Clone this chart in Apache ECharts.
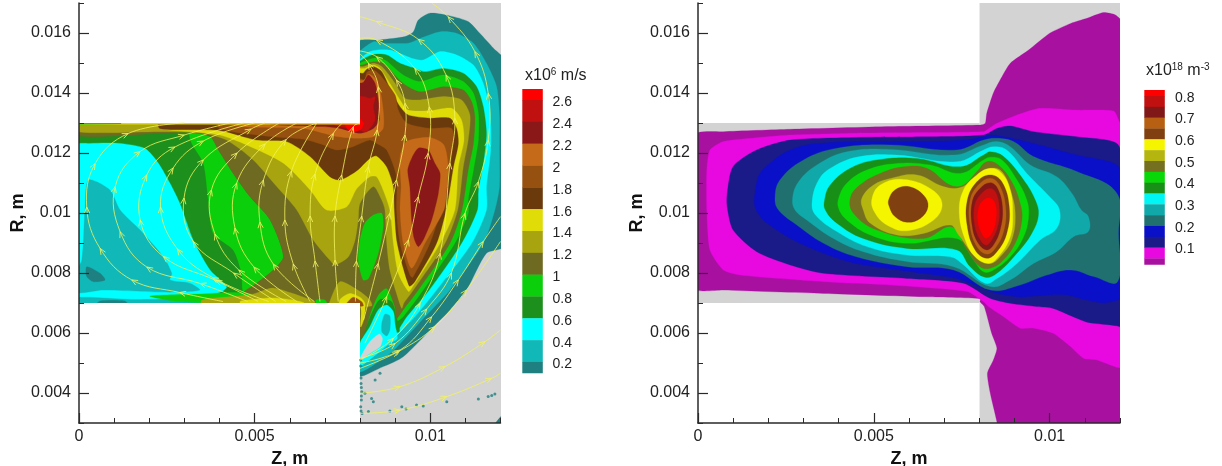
<!DOCTYPE html>
<html><head><meta charset="utf-8">
<style>html,body{margin:0;padding:0;background:#fff}#c{width:1222px;height:466px}</style>
<script src="https://cdn.jsdelivr.net/npm/echarts@6/dist/echarts.min.js"></script>
</head><body><div id="c"></div>
<script>
// All contour outlines are [Z, R] in millimetres.
const zTicks=[0,0.005,0.01];
const rTicks=[0.004,0.006,0.008,0.01,0.012,0.014,0.016];
const speedLabels=['2.6','2.4','2.2','2','1.8','1.6','1.4','1.2','1','0.8','0.6','0.4','0.2'];
const densLabels=['0.8','0.7','0.6','0.5','0.4','0.3','0.2','0.1'];
const speedColors=['#ff0000','#c01010','#8a1818','#c46a18','#96500f','#6a3a0c','#e0dc08','#a8a410','#6e6a22','#0ccf0c','#1c8f1c','#00ffff','#10b8b8','#1e8080'];
const densColors=['#ff0000','#c01010','#801818','#b86012','#80400f','#f5f500','#b5b510','#757020','#08d808','#189018','#00f5f5','#10a8a8','#207070','#0a10c8','#1a1a88','#e808e0','#a810a0'];
const GREY='#d3d3d3';
const domainA=[[8,3],[12.1,3],[12.1,17.1],[8,17.1]];
const domainB=[[-.1,7],[8,7],[8,13],[-.1,13]];
const maskTop=[[-1,13],[8,13],[8,18],[-1,18]];
const maskBot=[[-1,7],[8,7],[8,2],[-1,2]];

// left panel: speed
const plumeDarkTeal=[[7.9,15.66],[8.57,15.77],[9.28,15.88],[9.52,16.04],[9.66,16.43],[9.99,16.66],[10.56,16.57],[11.08,16.38],[11.41,15.99],[11.8,15.49],[12.1,15.1],[12.1,8.9],[11.6,8.66],[11.03,7.43],[10.56,6.77],[10.09,6.21],[9.23,5.21],[8.66,4.88],[7.9,4.6]];
const plumeTeal=[[7.9,15.2],[8.38,15.71],[8.66,15.66],[9.37,15.66],[9.71,15.82],[10.28,16.04],[10.75,15.99],[11.23,15.66],[11.6,14.99],[11.89,14.21],[11.97,13.21],[11.97,12.1],[11.97,10.88],[11.84,10.1],[11.51,8.99],[10.56,7.43],[9.85,6.54],[9.33,5.88],[8.85,5.32],[7.9,4.75]];
const plumeCyan=[[7.9,14.9],[8.28,15.38],[8.85,15.43],[9.47,15.16],[9.8,15.1],[10.28,15.38],[10.75,15.27],[11.23,14.93],[11.51,14.32],[11.7,13.43],[11.72,12.1],[11.6,10.88],[11.6,10.1],[11.18,8.99],[10.18,7.43],[9.56,6.54],[9,5.88],[8.47,5.32],[7.9,4.9]];
const plumeDG=[[7.9,14.9],[8.33,15.27],[8.76,15.27],[9.14,14.99],[9.56,14.82],[9.85,14.71],[10.37,14.82],[10.94,14.66],[11.32,14.21],[11.51,13.54],[11.6,12.66],[11.51,11.66],[11.37,10.77],[11.34,10.1],[10.89,8.99],[9.97,7.43],[9.33,6.54],[9.0,6.0],[8.6,5.95],[7.9,5.7]];
const plumeGreen=[[7.9,14.85],[8.38,15.16],[8.71,15.1],[9.23,14.6],[9.71,14.38],[10.37,14.6],[10.94,14.38],[11.23,13.99],[11.37,13.32],[11.37,12.43],[11.23,11.43],[11.08,10.43],[11.08,9.99],[10.7,8.99],[9.8,7.43],[9.23,6.54],[9.04,6.38],[8.8,6.3],[8.4,6.3],[7.9,5.9]];
const wedgeDG=[[8.05,5.77],[8.38,6.77],[8.57,7.12],[8.9,7.04],[9.06,6.43],[9.12,6.04],[8.85,5.99],[8.3,5.6]];
const wedgeCyan=[[8,5.66],[8.28,6.21],[8.52,6.77],[8.76,6.93],[8.95,6.71],[9,6.27],[9.06,5.82],[8.85,5.66],[8.38,5.21],[8,4.93]];
const wedgeTeal=[[8.62,6.32],[8.71,6.63],[8.85,6.57],[8.85,6.1],[8.76,5.9],[8.62,6.04]];
const wedgeHole=[[8,5.16],[8.28,5.71],[8.55,5.97],[8.64,5.82],[8.57,5.54],[8.28,5.32],[8.02,5.1]];
const channelDG=[[-.1,6.9],[8,6.9],[8,13.1],[-.1,13.1]];
const channelCyan=[[-.1,12.25],[.31,12.32],[1.17,12.32],[1.88,12.15],[2.26,11.66],[2.59,10.99],[2.87,10.32],[3.25,9.1],[3.73,8.1],[4.2,7.54],[4.0,7.35],[3.0,7.15],[-.1,7.1]];
const channelTeal=[[.08,8.43],[.17,10.1],[.27,11.1],[.88,10.77],[1.17,10.1],[1.74,9.43],[2.4,8.54],[2.64,7.99],[2.59,7.77],[3.16,7.66],[3.44,7.43],[2.59,7.36],[.69,7.43],[-.1,7.36],[-.1,8]];
const channelPatch=[[.22,8.21],[.6,7.99],[.74,7.77],[.41,7.71],[.22,7.88]];
const channelBotTeal=[[-.1,7.18],[1.5,7.12],[3.8,7.12],[4.2,7.0],[4.2,6.9],[-.1,6.9]];
const channelBotDark=[[.6,7.07],[1.3,7.07],[1.4,6.95],[.5,6.95]];
const channelGreen=[[3.16,12.66],[3.73,12.55],[3.97,12.1],[4.39,11.32],[4.87,10.54],[5.44,9.77],[5.82,8.55],[5.53,8.1],[5.06,7.66],[4.68,7.38],[4.63,7.99],[4.39,8.77],[3.82,9.32],[3.68,10.43],[3.54,11.66],[3.21,12.32]];
const coreOlive=[[-.1,13.2],[7.9,13.2],[7.9,14.85],[8.11,14.95],[8.38,15.04],[8.66,14.99],[9.23,14.32],[9.71,14.04],[10.37,14.21],[10.94,14.1],[11.18,13.71],[11.27,13.21],[11.23,12.32],[11.08,11.43],[10.9,10.1],[10.56,8.99],[9.66,7.43],[9.23,6.77],[9.04,6.49],[8.99,6.88],[8.76,7.49],[8.52,7.27],[8.33,6.77],[8.05,5.82],[7.9,6],[7.9,6.9],[4.6,6.9],[4.68,7.35],[5.06,7.66],[5.53,8.1],[5.82,8.55],[5.44,9.77],[4.87,10.54],[4.39,11.32],[3.97,12.1],[3.73,12.55],[3.06,12.69],[-.1,12.57]];
const coreOb=[[-.1,13.2],[7.9,13.2],[7.9,14.85],[8.11,14.88],[8.38,14.99],[8.62,14.88],[9.0,14.32],[9.28,13.82],[9.71,13.77],[10.37,13.88],[10.89,13.77],[11.13,13.27],[11.08,12.43],[10.94,11.54],[10.78,10.1],[10.42,8.99],[9.52,7.43],[9.25,7.0],[9.19,6.82],[9.04,7.32],[8.85,8.1],[8.76,8.99],[8.71,10.1],[8.62,10.43],[8.38,10.88],[8.0,10.32],[7.95,9.77],[7.86,9.1],[7.67,8.54],[7.29,8.27],[7.14,8.43],[6.67,9.1],[6.2,10.1],[5.63,10.88],[4.96,11.77],[4.2,12.43],[3.54,12.66],[2.4,12.71],[-.1,12.72]];
const coreYellow=[[2.4,13.2],[7.9,13.2],[7.9,14.8],[8.14,14.82],[8.38,14.93],[8.57,14.82],[8.85,14.32],[9.14,13.77],[9.37,13.43],[9.99,13.41],[10.61,13.49],[10.89,13.1],[10.96,12.43],[10.8,11.54],[10.7,10.1],[10.28,8.99],[9.47,7.49],[9.38,7.38],[9.09,7.99],[8.95,8.99],[8.85,10.1],[8.62,10.88],[8.47,11.21],[8.28,11.21],[7.9,10.8],[7.62,10.21],[7.05,10.1],[6.58,10.77],[5.82,11.66],[4.77,12.27],[4.01,12.6],[3.25,12.71],[2.4,12.82]];
const coreDark=[[2.3,13.2],[7.9,13.2],[7.9,14.66],[8.09,14.66],[8.17,14.77],[8.38,14.88],[8.62,14.71],[8.85,14.16],[9.14,13.54],[9.37,13.27],[9.99,13.16],[10.56,13.16],[10.75,12.82],[10.8,12.32],[10.66,11.54],[10.47,10.21],[10.18,8.99],[9.56,7.71],[9.4,7.57],[9.06,8.99],[8.98,10.1],[8.95,10.88],[8.76,11.54],[8.47,11.9],[8.28,11.82],[7.9,11.4],[7.43,11.1],[7.14,11.21],[6.58,11.88],[5.91,12.38],[5.06,12.43],[4.0,12.75],[2.3,12.82]];
const coreBrown=[[4.0,13.2],[7.9,13.2],[7.9,14.5],[8.14,14.43],[8.19,14.68],[8.38,14.77],[8.57,14.6],[9.0,13.93],[9.09,13.43],[9.33,13.0],[9.99,12.82],[10.61,12.82],[10.65,12.3],[10.56,11.54],[10.33,10.21],[9.99,8.99],[9.5,7.85],[9.42,7.93],[9.14,8.99],[9.04,10.1],[9.04,11.21],[8.76,12.1],[8.47,12.32],[8.28,12.43],[7.8,12.21],[7.33,12.1],[6.96,12.27],[6.39,12.46],[5.44,12.55],[4.0,12.82]];
const leftOrange=[[4.49,13.2],[7.9,13.2],[7.9,14.4],[8.11,14.43],[8.24,14.63],[8.43,14.49],[8.57,14.1],[8.66,13.43],[8.66,12.82],[8.38,12.54],[7.9,12.49],[7.33,12.55],[6.96,12.66],[6.39,12.82],[4.49,12.9]];
const leftDarkRed=[[5.44,13.2],[7.9,13.2],[7.9,14.3],[8.09,14.35],[8.24,14.6],[8.43,14.32],[8.52,13.77],[8.55,13.1],[8.38,12.82],[8,12.66],[7.43,12.82],[6.96,12.88],[5.44,12.97]];
const leftCrimson=[[7.24,13.2],[7.9,13.2],[7.9,13.88],[8.11,13.88],[8.28,13.82],[8.43,13.88],[8.38,13.54],[8.43,13.1],[8.19,12.71],[8,12.75],[7.43,12.88],[7.24,12.97]];
const leftRed=[[7.57,13.2],[7.95,13.2],[8.08,13.05],[8.11,13.0],[8.05,12.82],[7.86,12.71],[7.67,12.77],[7.57,12.93]];
const lobeOrange=[[9.14,10.1],[9.17,10.88],[9.14,11.88],[9.33,12.38],[9.99,12.52],[10.39,12.27],[10.51,11.54],[10.47,10.77],[10.39,10.1],[9.85,8.99],[9.47,8.16],[9.23,8.99]];
const lobeDarkRed=[[9.66,12.16],[9.94,12.1],[10.13,11.66],[10.28,11.32],[10.23,10.66],[10.12,10.1],[10.02,9.7],[9.8,9.1],[9.66,8.88],[9.54,9.16],[9.47,9.77],[9.42,10.88],[9.36,11.43],[9.47,11.82]];
const blobGreen=[[8.38,9.93],[8.62,9.99],[8.66,9.54],[8.52,8.66],[8.24,7.82],[8.09,7.77],[7.95,8.43],[8.0,9.1],[8.14,9.66]];
const stripGreen=[[2.02,7.23],[3.4,7.3],[4.6,7.35],[5.2,7.2],[5.0,7.0],[2.8,7.05]];
const stripOb=[[3.5,7.1],[4.9,7.28],[5.5,7.5],[6.0,7.35],[6.7,7.05],[6.7,6.9],[3.5,6.9]];
const stripYellow=[[4.6,7.07],[5.5,7.17],[6.1,7.1],[6.4,7.0],[4.6,6.95]];
const stripGreenSmall=[[6.75,7.1],[7.0,7.1],[7.05,7.0],[6.75,7]];
const spotOb=[[7.14,7.05],[7.43,7.71],[8.0,7.38],[8.28,7.1],[8.33,6.9],[7.14,6.9]];
const spotYellow=[[7.43,7.12],[7.71,7.32],[8.0,7.19],[8.14,6.99],[8.12,6.5],[8.02,6.2],[8.0,6.9],[7.43,6.9]];
const spotBrown=[[7.62,6.99],[7.81,7.19],[8.05,7.04],[8.09,6.9],[7.62,6.9]];
const topLineYellow=[[-.1,13.05],[8,13.05],[8,12.95],[4,12.95],[-.1,12.95]];
const topLineGreen=[[-.1,13.05],[1.2,13.05],[1.2,12.97],[-.1,12.95]];
const cornerTeal=[[11.85,3],[12,3.22],[12.1,3.22],[12.1,2.9],[11.85,2.9]];
const specks=[[8.02,5.1],[8.02,4.9],[8.04,4.66],[8.03,4.5],[8.03,4.32],[8.04,4.18],[8.05,4.04],[8.04,3.9],[8.04,3.77],[8.02,3.54],[8.03,3.4],[8.06,3.32],[8.14,3.99],[8.38,3.71],[8.33,3.82],[8.57,4.66],[8.43,4.43],[8.24,3.38],[8.85,3.4],[9.19,3.54],[9.31,3.47],[9.61,3.6],[9.8,3.57],[10.47,3.71],[11.37,3.8],[11.65,3.88],[11.84,3.97],[11.75,3.92]];

const streamlines=[
[[4.1,7.05],[2.87,7.35],[1.5,7.77],[.6,8.82],[.22,10.2],[.46,11.65],[1.4,12.65],[3.0,13]],
[[4.8,7.05],[3.45,7.65],[1.93,8.2],[1.17,9.38],[1.03,10.88],[1.74,12.05],[3.0,12.6],[4.3,13]],
[[5.1,7.05],[3.9,7.75],[2.4,8.55],[1.74,9.77],[1.93,11.27],[2.73,12.2],[4.7,13]],
[[5.4,7.05],[3.8,7.85],[2.8,8.8],[2.32,10.2],[2.68,11.5],[3.54,12.4],[5.0,13]],
[[5.6,7.05],[4.4,8.0],[3.25,9.05],[2.99,10.5],[3.54,11.77],[4.9,12.8],[5.3,13]],
[[5.9,7.05],[4.55,8.1],[3.87,9.3],[3.77,10.77],[4.5,12],[5.7,13]],
[[6.2,7.05],[4.98,8.2],[4.44,9.5],[4.49,11],[5.3,12.3],[6.2,13]],
[[6.7,7.05],[5.53,8.3],[5.15,9.7],[5.25,11.1],[5.9,12.45],[6.77,13]],
[[6.58,7.05],[6.1,8.3],[5.86,9.77],[6.05,11.4],[6.77,13]],
[[6.86,7.05],[6.72,8.4],[6.58,9.9],[6.72,11.3],[7.24,12.65],[7.5,13]],
[[7.38,7.05],[7.29,8.43],[7.29,9.9],[7.48,11.27],[7.81,12.87],[8,13]],
[[7.87,7.05],[7.9,8.4],[8.05,9.9],[8.24,11.54],[8.49,12.77],[8.52,14.21],[8.24,14.99],[8,15.3]],
[[8.1,6.43],[8.52,8.32],[8.85,9.99],[9.04,11.1],[9.28,12.6],[9.28,13.66],[9.04,14.43],[8.47,15.21],[8,15.4]],
[[8.14,5.66],[8.76,7.21],[9.38,9.1],[9.66,10.54],[9.94,11.99],[9.97,13.54],[9.56,14.82],[8.47,15.77],[8,15.82]],
[[8,5.1],[8.95,5.82],[9.71,6.99],[10.28,8.66],[10.56,11.66],[10.7,13.16],[10.45,14.6],[9.66,15.79],[8.47,16.38],[8,16.54]],
[[8,5.15],[9,5.65],[9.9,6.8],[10.6,8],[10.99,9.99],[11.37,11.04],[11.65,12.43],[11.65,13.99],[11.27,15.38],[10.51,16.54],[10.04,17]],
[[8,4.82],[9.09,5.38],[10.13,6.21],[11.03,7.43],[12,9.05]],
[[8,5],[9.14,5.43],[10.04,6.54],[10.8,7.77],[11.51,9.05],[12,9.88]],
[[8,3.99],[9.14,4.21],[10.42,4.88],[11.56,5.71],[12,6.1]],
[[8,3.32],[9.14,3.43],[10.47,3.88],[11.75,4.49],[12,4.66]]
];

// right panel: density
const dPurple=[[-.1,12.6],[.72,12.71],[2.62,12.79],[5.47,12.88],[8.03,12.93],[8.17,12.99],[8.21,13.32],[8.4,14.0],[8.59,14.43],[8.88,14.99],[9.4,15.43],[10.0,15.99],[10.6,16.32],[11.06,16.49],[11.53,16.68],[11.87,16.6],[12.1,16.3],[12.1,2.9],[8.5,2.9],[8.5,3.04],[8.31,4.0],[8.23,4.66],[8.4,5.1],[8.5,5.49],[8.35,5.99],[8.14,6.88],[8.02,7.04],[8.03,7.15],[6.41,7.21],[3.57,7.32],[.72,7.43],[-.1,7.49]];
const dMagenta=[[.34,12.1],[.72,12.38],[1.48,12.49],[2.62,12.6],[4.5,12.66],[6.41,12.68],[8.12,12.71],[8.21,12.77],[8.5,12.99],[9.07,13.27],[9.73,13.49],[10.77,13.43],[11.82,13.4],[11.96,13.1],[12.1,12.66],[12.1,4.85],[11.9,4.86],[11.34,5.1],[10.96,5.16],[10.6,5.54],[10.1,5.99],[9.54,6.16],[9.16,6.16],[8.69,6.54],[8.26,6.88],[8.12,7.04],[7.65,7.38],[5.47,7.6],[3.57,7.71],[1.2,7.93],[.72,8.1],[.34,8.77],[.25,10.1],[.25,11.43]];
const dNavy=[[.83,10.65],[1.0,11.55],[1.67,12.1],[2.62,12.43],[4.5,12.52],[6.41,12.54],[8.12,12.6],[8.5,12.82],[8.88,12.9],[9.54,12.71],[10.77,12.54],[11.91,12.32],[12.1,11.5],[12.1,6.2],[11.91,6.24],[11.72,6.27],[11.1,6.35],[10.77,6.49],[10.1,6.82],[9.64,6.88],[8.88,6.99],[8.3,7.16],[7.55,7.66],[5.94,7.82],[3.57,7.99],[2.62,8.27],[1.67,8.71],[1.0,9.43],[.83,10.2]];
const dBlue=[[1.62,10.65],[1.76,11.32],[2.43,11.99],[3.09,12.27],[4.5,12.38],[6.41,12.38],[7.65,12.43],[8.12,12.54],[8.4,12.6],[9.54,12.32],[10.77,11.93],[11.91,11.6],[12.1,10.9],[12.1,7.25],[11.58,7.01],[11.06,7.1],[10.5,7.27],[9.92,7.27],[9.16,7.21],[8.5,7.32],[8.12,7.49],[7.36,7.82],[6.41,7.99],[4.5,8.32],[3.57,8.66],[2.62,9.16],[1.86,9.77],[1.62,10.2]];
const dTealDark=[[2.19,10.49],[2.33,11.1],[3.0,11.77],[3.95,12.16],[5.47,12.27],[7.36,12.1],[8.12,12.43],[8.5,12.49],[8.97,12.38],[9.54,11.88],[10.77,11.38],[11.91,10.66],[11.96,9.32],[11.93,7.71],[11.25,7.88],[10.6,8.1],[9.92,7.93],[9.16,7.6],[8.31,7.43],[7.27,8.1],[5.94,8.21],[4.5,8.54],[3.57,8.99],[2.81,9.6],[2.29,10.1]];
const dTeal=[[2.69,10.49],[2.86,11.04],[3.38,11.6],[4.23,12.04],[5.47,12.12],[7.27,11.93],[8.12,12.27],[8.5,12.38],[8.88,12.21],[9.45,11.6],[10.2,11.21],[10.63,10.66],[10.9,10.1],[11.1,9.88],[11.1,9.38],[10.68,9.21],[10.2,8.71],[9.54,8.32],[8.88,7.77],[8.31,7.55],[7.27,8.21],[5.94,8.38],[4.7,8.71],[3.85,9.15],[3.09,9.77],[2.76,10.1]];
const dCyan=[[3.24,10.27],[3.43,11.1],[3.85,11.55],[4.6,11.88],[5.65,11.93],[7.36,11.71],[8.12,12.1],[8.4,12.21],[8.78,12.1],[9.35,11.32],[10.0,10.54],[10.28,10.1],[10.2,9.49],[9.73,9.1],[9.07,8.32],[8.5,7.82],[8.16,7.66],[7.5,8.32],[7.17,8.54],[5.94,8.6],[4.8,8.88],[3.95,9.38],[3.38,9.88]];
const dDarkGreen=[[3.6,10.43],[3.76,10.93],[4.33,11.49],[5.09,11.77],[6.22,11.82],[7.46,11.54],[8.12,11.93],[8.31,12.04],[8.69,11.88],[9.26,11.1],[9.59,10.43],[9.68,9.93],[9.49,9.32],[9.07,8.66],[8.5,7.99],[8.16,7.86],[7.74,8.21],[7.36,8.77],[5.94,8.82],[4.7,9.15],[3.95,9.66],[3.62,10.1]];
const dGreen=[[4.0,10.49],[4.23,10.99],[4.8,11.43],[5.65,11.65],[6.6,11.6],[7.46,11.32],[8.12,11.77],[8.31,11.86],[8.64,11.77],[9.07,11.1],[9.35,10.43],[9.4,9.88],[9.26,9.21],[8.88,8.54],[8.4,8.1],[8.12,8.04],[7.84,8.43],[7.36,9.15],[5.94,8.99],[4.9,9.27],[4.23,9.77],[4.0,10.15]];
const dOliveDark=[[4.33,10.49],[4.6,10.93],[5.18,11.32],[5.84,11.54],[6.51,11.49],[7.17,10.93],[7.55,10.93],[7.93,11.38],[8.21,11.71],[8.54,11.6],[8.92,11.04],[9.16,10.32],[9.21,9.77],[9.02,8.99],[8.64,8.38],[8.31,8.16],[8.02,8.21],[7.65,8.77],[7.22,9.54],[6.41,9.15],[5.09,9.43],[4.42,9.99]];
const dOlive=[[4.66,10.49],[4.99,10.93],[5.47,11.15],[6.22,11.27],[6.98,10.88],[7.46,10.85],[7.93,11.21],[8.35,11.49],[8.64,11.38],[8.88,10.77],[9.02,9.99],[8.92,9.1],[8.59,8.54],[8.31,8.32],[7.93,8.49],[7.41,9.27],[7.17,9.6],[6.41,9.32],[5.65,9.27],[4.9,9.66],[4.7,10.1]];
const dYellowBlob=[[4.94,10.43],[5.18,10.93],[5.84,11.12],[6.6,10.82],[6.94,10.32],[6.7,9.77],[5.94,9.41],[5.37,9.6],[5.04,9.99]];
const dBrownBlob=[[5.42,10.43],[5.6,10.77],[5.99,10.88],[6.41,10.6],[6.54,10.21],[6.32,9.82],[5.94,9.69],[5.6,9.88],[5.44,10.21]];
const dYellowPeak=[[8.31,11.49],[8.64,11.32],[8.88,10.77],[8.95,9.99],[8.88,9.21],[8.54,8.54],[8.26,8.32],[7.88,8.54],[7.6,9.1],[7.43,9.99],[7.55,10.77],[7.93,11.27]];
const dBrownPeak=[[8.31,11.27],[8.64,11.04],[8.85,10.21],[8.78,9.32],[8.5,8.71],[8.21,8.49],[7.88,8.77],[7.66,9.54],[7.66,10.43],[7.93,11.04]];
const dOrangePeak=[[8.31,11.16],[8.57,10.93],[8.75,10.16],[8.69,9.38],[8.45,8.82],[8.21,8.63],[7.93,8.88],[7.74,9.54],[7.74,10.43],[7.97,10.93]];
const dDarkRedPeak=[[8.31,11.01],[8.52,10.82],[8.66,10.16],[8.59,9.43],[8.4,8.93],[8.21,8.77],[7.97,8.99],[7.8,9.54],[7.8,10.38],[8.02,10.82]];
const dCrimsonPeak=[[8.31,10.82],[8.48,10.66],[8.57,10.1],[8.52,9.54],[8.35,9.1],[8.19,8.93],[8.0,9.16],[7.87,9.6],[7.87,10.27],[8.07,10.66]];
const dRedPeak=[[8.31,10.49],[8.45,10.32],[8.48,9.88],[8.4,9.43],[8.21,9.16],[8.07,9.32],[7.96,9.71],[7.98,10.16],[8.12,10.43]];

const L=(pts,color,smooth)=>({pts,color,smooth:smooth===undefined?0.25:smooth});
const R=(pts,color)=>L(pts,color,0.4);
const [cRed,cCrim,cDRed,cOr,cBr,cDk,cYe,cOb,cOl,cGr,cDG,cCy,cTe,cDT]=speedColors;
const leftLayers=[
 L(domainA,GREY,0),L(domainB,GREY,0),
 L(plumeDarkTeal,cDT),L(plumeTeal,cTe),L(plumeCyan,cCy),L(plumeDG,cDG),L(plumeGreen,cGr),
 L(wedgeDG,cDG),L(wedgeCyan,cCy),L(wedgeTeal,cTe),L(wedgeHole,GREY),L(cornerTeal,cDT,0),
 L(channelDG,cDG,0),L(channelCyan,cCy),L(channelTeal,cTe),L(channelPatch,cDT),L(channelBotTeal,cTe),L(channelBotDark,cDT),L(channelGreen,cGr),
 L(coreOlive,cOl),L(coreOb,cOb),L(coreYellow,cYe),L(coreDark,cDk),L(coreBrown,cBr),
 L(lobeOrange,cOr),L(lobeDarkRed,cDRed),L(leftOrange,cOr),L(leftDarkRed,cDRed),L(leftCrimson,cCrim),L(leftRed,cRed),
 L(blobGreen,cGr),L(stripGreen,cGr),L(stripOb,cOb),L(stripYellow,cYe),L(stripGreenSmall,cGr),L(spotOb,cOb),L(spotYellow,cYe),L(spotBrown,cBr),
 L(topLineYellow,cYe,0),L(topLineGreen,cGr,0),
 L(maskTop,'#ffffff',0),L(maskBot,'#ffffff',0)
];
const dc=densColors;
const rightLayers=[
 L(domainA,GREY,0),L(domainB,GREY,0),
 L(dPurple,dc[16],0.2),L(dMagenta,dc[15],0.2),L(dNavy,dc[14],0.25),L(dBlue,dc[13],0.25),R(dTealDark,dc[12]),R(dTeal,dc[11]),R(dCyan,dc[10]),R(dDarkGreen,dc[9]),R(dGreen,dc[8]),R(dOliveDark,dc[7]),R(dOlive,dc[6]),
 R(dYellowBlob,dc[5]),R(dBrownBlob,dc[4]),
 R(dYellowPeak,dc[5]),R(dBrownPeak,dc[4]),R(dOrangePeak,dc[3]),R(dDarkRedPeak,dc[2]),R(dCrimsonPeak,dc[1]),R(dRedPeak,dc[0]),
 L(maskTop,'#ffffff',0),L(maskBot,'#ffffff',0)
];

const MM=1000;
function contourSeries(layers,axis,z){
 return {type:'custom',coordinateSystem:'cartesian2d',xAxisIndex:axis,yAxisIndex:axis,clip:true,silent:true,animation:false,z,
  data:layers.map((_,i)=>[i]),encode:{x:[],y:[]},
  renderItem(p,api){
   const l=layers[api.value(0)];
   return {type:'polygon',shape:{points:l.pts.map(q=>api.coord([q[0]/MM,q[1]/MM])),smooth:l.smooth},
     style:{fill:l.color,stroke:l.smooth?l.color:null,lineWidth:l.smooth?0.3:0}};
  }};
}
function streamSeries(lines,axis,z){
 const col='#f2f25e';
 return {type:'custom',coordinateSystem:'cartesian2d',xAxisIndex:axis,yAxisIndex:axis,clip:true,silent:true,animation:false,z,
  data:lines.map((_,i)=>[i]),encode:{x:[],y:[]},
  renderItem(p,api){
   const pts=lines[api.value(0)].map(q=>api.coord([q[0]/MM,q[1]/MM]));
   const ch=[{type:'polyline',shape:{points:pts,smooth:0.4},style:{fill:null,stroke:col,lineWidth:1,opacity:.8}}];
   for(let i=1;i<pts.length-1;i++){
     const dx=pts[i+1][0]-pts[i-1][0],dy=pts[i+1][1]-pts[i-1][1],n=Math.hypot(dx,dy)||1,ux=dx/n,uy=dy/n;
     const a=pts[i],b=[a[0]-ux*6-uy*2.6,a[1]-uy*6+ux*2.6],c=[a[0]-ux*6+uy*2.6,a[1]-uy*6-ux*2.6];
     ch.push({type:'polyline',shape:{points:[b,a,c]},style:{fill:null,stroke:col,lineWidth:1,opacity:.85}});
   }
   return {type:'group',children:ch};
  }};
}
const FONT='"Liberation Sans",Arial,sans-serif';
const axisCol='#2a2a2a';
function xMain(g){return {type:'value',gridIndex:g,position:'bottom',min:0,max:0.012,name:'Z, m',nameLocation:'middle',nameGap:14,
  nameTextStyle:{fontFamily:FONT,fontSize:18,fontWeight:'bold',color:'#111'},splitLine:{show:false},z:20,
  axisLine:{show:true,onZero:false,lineStyle:{color:axisCol,width:1.5}},
  axisTick:{show:true,inside:true,length:10,customValues:zTicks,lineStyle:{color:axisCol,width:1.2}},
  axisLabel:{show:true,customValues:zTicks,margin:6,fontFamily:FONT,fontSize:16,color:'#222',formatter:v=>String(v)}};}
function xMinor(g){return {type:'value',gridIndex:g,position:'bottom',min:0,max:0.012,interval:0.001,splitLine:{show:false},z:20,
  axisLine:{show:false,onZero:false},axisLabel:{show:false},axisTick:{show:true,inside:true,length:5,lineStyle:{color:axisCol,width:1}}};}
function yMain(g){return {type:'value',gridIndex:g,position:'left',min:0.003,max:0.017,name:'R, m',nameLocation:'middle',nameGap:52,
  nameTextStyle:{fontFamily:FONT,fontSize:18,fontWeight:'bold',color:'#111'},splitLine:{show:false},z:20,
  axisLine:{show:true,onZero:false,lineStyle:{color:axisCol,width:1.5}},
  axisTick:{show:true,inside:true,length:10,customValues:rTicks,lineStyle:{color:axisCol,width:1.2}},
  axisLabel:{show:true,customValues:rTicks,margin:8,fontFamily:FONT,fontSize:16,color:'#222',formatter:v=>String(v)}};}
function yMinor(g){return {type:'value',gridIndex:g,position:'left',min:0.003,max:0.017,interval:0.001,splitLine:{show:false},z:20,
  axisLine:{show:false,onZero:false},axisLabel:{show:false},axisTick:{show:true,inside:true,length:5,lineStyle:{color:axisCol,width:1}}};}

function legend(x,top,seg,first,colors,labels,step,labelX,labelOff,richT,rich,titleX,titleY){
 const out=[];let y=top;
 colors.forEach((c,i)=>{
   const h=(i===0||i===colors.length-1)?first:seg;
   out.push({type:'rect',shape:{x,y,width:20.5,height:h+0.3},style:{fill:c},silent:true});
   y+=h;
 });
 labels.forEach((t,i)=>{
   out.push({type:'text',x:labelX,y:top+first+i*seg*step+labelOff,style:{text:t,fontFamily:FONT,fontSize:14,fill:'#222',verticalAlign:'middle'},silent:true});
 });
 out.push({type:'text',x:titleX,y:titleY,style:{rich,text:richT,fontFamily:FONT},silent:true});
 return out;
}
const tA={fontFamily:FONT,fontSize:16,fill:'#222',lineHeight:18};
const tS={fontFamily:FONT,fontSize:10,fill:'#222',verticalAlign:'top',lineHeight:18};
const rich={a:tA,s:tS};

const chart=echarts.init(document.getElementById('c'),null,{renderer:'canvas'});
chart.setOption({animation:false,backgroundColor:'#fff',
 grid:[{left:79,top:3,width:421.5,height:420,outerBoundsMode:'none',containLabel:false},{left:698,top:3,width:422,height:420,outerBoundsMode:'none',containLabel:false}],
 xAxis:[xMain(0),xMinor(0),xMain(1),xMinor(1)],
 yAxis:[yMain(0),yMinor(0),yMain(1),yMinor(1)],
 series:[
  contourSeries(leftLayers,0,2),
  {type:'scatter',xAxisIndex:0,yAxisIndex:0,silent:true,animation:false,z:3,symbolSize:3,itemStyle:{color:cDT},data:specks.map(q=>[q[0]/MM,q[1]/MM])},
  streamSeries(streamlines,0,4),
  contourSeries(rightLayers,2,2)
 ],
 graphic:{elements:[
  ...legend(522.3,89,21.83,11,speedColors,speedLabels,1,552.5,2.6,'{a|x10}{s|6}{a| m/s}',rich,525,67),
  ...legend(1144.3,90,10.83,6,densColors,densLabels,2,1175,1.7,'{a|x10}{s|18}{a| m}{s|-3}',rich,1146,62)
 ]}
});
</script></body></html>
